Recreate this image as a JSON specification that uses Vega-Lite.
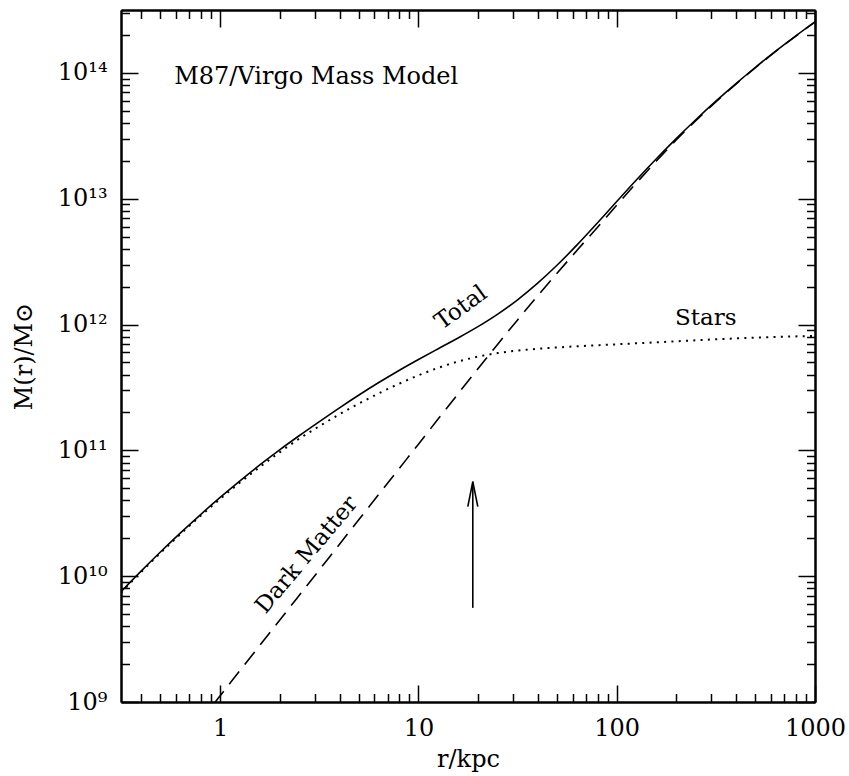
{
  "$schema": "https://vega.github.io/schema/vega-lite/v6.json",
  "width": 694,
  "height": 692,
  "autosize": {"type": "none"},
  "padding": {"left": 121, "top": 10, "right": 34, "bottom": 74},
  "background": "white",
  "config": {
    "view": {"stroke": null},
    "font": "DejaVu Serif",
    "axis": {
      "grid": false,
      "domainColor": "black",
      "domainWidth": 2,
      "tickColor": "black",
      "tickWidth": 1.5,
      "labelColor": "black",
      "labelFont": "DejaVu Serif",
      "labelFontSize": 24,
      "labelOverlap": false,
      "labelFlush": false,
      "labelBound": false,
      "titleFont": "DejaVu Serif",
      "titleFontSize": 24,
      "titleFontWeight": "normal",
      "titleColor": "black"
    }
  },
  "datasets": {
    "curves": [
      {"r": 0.3162, "total": 7.516e9, "stars": 7.4e9, "dm": 1.12e8},
      {"r": 0.3981, "total": 1.091e10, "stars": 1.073e10, "dm": 1.78e8},
      {"r": 0.5012, "total": 1.563e10, "stars": 1.535e10, "dm": 2.82e8},
      {"r": 0.631, "total": 2.208e10, "stars": 2.163e10, "dm": 4.47e8},
      {"r": 0.7943, "total": 3.076e10, "stars": 3.005e10, "dm": 7.08e8},
      {"r": 1, "total": 4.227e10, "stars": 4.115e10, "dm": 1.12e9},
      {"r": 1.259, "total": 5.728e10, "stars": 5.55e10, "dm": 1.78e9},
      {"r": 1.585, "total": 7.656e10, "stars": 7.374e10, "dm": 2.82e9},
      {"r": 1.995, "total": 1.009e11, "stars": 9.64e10, "dm": 4.47e9},
      {"r": 2.512, "total": 1.312e11, "stars": 1.241e11, "dm": 7.08e9},
      {"r": 3.162, "total": 1.69e11, "stars": 1.556e11, "dm": 1.12e10},
      {"r": 3.981, "total": 2.168e11, "stars": 1.928e11, "dm": 1.78e10},
      {"r": 5.012, "total": 2.754e11, "stars": 2.355e11, "dm": 2.82e10},
      {"r": 6.31, "total": 3.459e11, "stars": 2.838e11, "dm": 4.47e10},
      {"r": 7.943, "total": 4.295e11, "stars": 3.373e11, "dm": 7.08e10},
      {"r": 10, "total": 5.272e11, "stars": 3.945e11, "dm": 1.12e11},
      {"r": 12.59, "total": 6.427e11, "stars": 4.529e11, "dm": 1.78e11},
      {"r": 15.85, "total": 7.816e11, "stars": 5.082e11, "dm": 2.82e11},
      {"r": 19.95, "total": 9.616e11, "stars": 5.559e11, "dm": 4.446e11},
      {"r": 25.12, "total": 1.211e12, "stars": 5.929e11, "dm": 6.982e11},
      {"r": 31.62, "total": 1.574e12, "stars": 6.209e11, "dm": 1.089e12},
      {"r": 39.81, "total": 2.123e12, "stars": 6.412e11, "dm": 1.683e12},
      {"r": 50.12, "total": 2.972e12, "stars": 6.577e11, "dm": 2.57e12},
      {"r": 63.1, "total": 4.295e12, "stars": 6.714e11, "dm": 3.89e12},
      {"r": 79.43, "total": 6.353e12, "stars": 6.839e11, "dm": 5.861e12},
      {"r": 100, "total": 9.506e12, "stars": 6.966e11, "dm": 8.872e12},
      {"r": 125.9, "total": 1.416e13, "stars": 7.096e11, "dm": 1.337e13},
      {"r": 158.5, "total": 2.08e13, "stars": 7.228e11, "dm": 1.995e13},
      {"r": 199.5, "total": 3.006e13, "stars": 7.362e11, "dm": 2.931e13},
      {"r": 251.2, "total": 4.266e13, "stars": 7.499e11, "dm": 4.188e13},
      {"r": 316.2, "total": 5.957e13, "stars": 7.638e11, "dm": 5.875e13},
      {"r": 398.1, "total": 8.185e13, "stars": 7.762e11, "dm": 8.11e13},
      {"r": 501.2, "total": 1.109e14, "stars": 7.87e11, "dm": 1.102e14},
      {"r": 631, "total": 1.483e14, "stars": 7.96e11, "dm": 1.476e14},
      {"r": 794.3, "total": 1.954e14, "stars": 8.05e11, "dm": 1.945e14},
      {"r": 1000, "total": 2.547e14, "stars": 8.13e11, "dm": 2.541e14}
    ],
    "notes": [
      {"label": "M87/Virgo Mass Model", "r": 0.586, "M": 8.18e13},
      {"label": "Stars", "r": 281, "M": 9.86e11},
      {"label": "Total", "r": 16.4, "M": 1.36e12},
      {"label": "Dark Matter", "r": 2.73, "M": 1.48e10}
    ],
    "arrow": [
      {"r": 18.8, "M0": 5.6e9, "M1": 5.64e10}
    ]
  },
  "layer": [
    {
      "data": {"name": "curves"},
      "mark": {"type": "line", "stroke": "black", "strokeWidth": 1.6, "strokeDash": [16, 9], "clip": true, "interpolate": "monotone"},
      "encoding": {
        "x": {"field": "r", "type": "quantitative", "scale": {"type": "log", "domain": [0.3162, 1000], "nice": false},
          "axis": {"orient": "top", "values": [1, 10, 100, 1000], "tickSize": -17, "labels": false, "title": null}},
        "y": {"field": "dm", "type": "quantitative", "scale": {"type": "log", "domain": [1e9, 3.1623e14], "nice": false},
          "axis": {"orient": "right", "values": [1e9, 1e10, 1e11, 1e12, 1e13, 1e14], "tickSize": -17, "labels": false, "title": null}}
      }
    },
    {
      "data": {"name": "curves"},
      "mark": {"type": "line", "stroke": "black", "strokeWidth": 2, "strokeDash": [2, 5.3], "clip": true, "interpolate": "monotone"},
      "encoding": {
        "x": {"field": "r", "type": "quantitative", "scale": {"type": "log", "domain": [0.3162, 1000], "nice": false},
          "axis": {"orient": "bottom", "values": [0.4, 0.5, 0.6, 0.7, 0.8, 0.9, 2, 3, 4, 5, 6, 7, 8, 9, 20, 30, 40, 50, 60, 70, 80, 90, 200, 300, 400, 500, 600, 700, 800, 900], "tickSize": -8.5, "labels": false, "title": null}},
        "y": {"field": "stars", "type": "quantitative", "scale": {"type": "log", "domain": [1e9, 3.1623e14], "nice": false},
          "axis": {"orient": "left", "values": [2e9, 3e9, 4e9, 5e9, 6e9, 7e9, 8e9, 9e9, 2e10, 3e10, 4e10, 5e10, 6e10, 7e10, 8e10, 9e10, 2e11, 3e11, 4e11, 5e11, 6e11, 7e11, 8e11, 9e11, 2e12, 3e12, 4e12, 5e12, 6e12, 7e12, 8e12, 9e12, 2e13, 3e13, 4e13, 5e13, 6e13, 7e13, 8e13, 9e13, 2e14, 3e14], "tickSize": -8.5, "labels": false, "title": null}}
      }
    },
    {
      "data": {"name": "curves"},
      "mark": {"type": "line", "stroke": "black", "strokeWidth": 1.6, "clip": true, "interpolate": "monotone"},
      "encoding": {
        "x": {"field": "r", "type": "quantitative", "scale": {"type": "log", "domain": [0.3162, 1000], "nice": false},
          "axis": {"orient": "bottom", "values": [1, 10, 100, 1000], "tickSize": -17, "labelExpr": "'' + datum.value", "labelPadding": 31, "labelBaseline": "top",
            "title": "r/kpc", "titleX": 347, "titleY": 64, "titleBaseline": "alphabetic", "titleAlign": "center"}},
        "y": {"field": "total", "type": "quantitative", "scale": {"type": "log", "domain": [1e9, 3.1623e14], "nice": false},
          "axis": {"orient": "left", "values": [1e9, 1e10, 1e11, 1e12, 1e13, 1e14], "tickSize": -17,
            "labelExpr": "datum.value==1e9?'10⁹':datum.value==1e10?'10¹⁰':datum.value==1e11?'10¹¹':datum.value==1e12?'10¹²':datum.value==1e13?'10¹³':datum.value==1e14?'10¹⁴':''",
            "labelPadding": 31, "labelBaseline": "middle",
            "title": "M(r)/M⊙", "titleX": -97, "titleY": 346, "titleAngle": 270, "titleBaseline": "middle", "titleAlign": "center"}}
      }
    },
    {
      "data": {"name": "notes"},
      "transform": [{"filter": "datum.label == 'M87/Virgo Mass Model'"}],
      "mark": {"type": "text", "align": "left", "baseline": "alphabetic", "fontSize": 24, "font": "DejaVu Serif", "color": "black"},
      "encoding": {
        "x": {"field": "r", "type": "quantitative", "scale": {"type": "log", "domain": [0.3162, 1000], "nice": false},
          "axis": {"orient": "top", "values": [0.4, 0.5, 0.6, 0.7, 0.8, 0.9, 2, 3, 4, 5, 6, 7, 8, 9, 20, 30, 40, 50, 60, 70, 80, 90, 200, 300, 400, 500, 600, 700, 800, 900], "tickSize": -8.5, "labels": false, "title": null}},
        "y": {"field": "M", "type": "quantitative", "scale": {"type": "log", "domain": [1e9, 3.1623e14], "nice": false},
          "axis": {"orient": "right", "values": [2e9, 3e9, 4e9, 5e9, 6e9, 7e9, 8e9, 9e9, 2e10, 3e10, 4e10, 5e10, 6e10, 7e10, 8e10, 9e10, 2e11, 3e11, 4e11, 5e11, 6e11, 7e11, 8e11, 9e11, 2e12, 3e12, 4e12, 5e12, 6e12, 7e12, 8e12, 9e12, 2e13, 3e13, 4e13, 5e13, 6e13, 7e13, 8e13, 9e13, 2e14, 3e14], "tickSize": -8.5, "labels": false, "title": null}},
        "text": {"field": "label"}
      }
    },
    {
      "data": {"name": "notes"},
      "transform": [{"filter": "datum.label == 'Stars'"}],
      "mark": {"type": "text", "align": "center", "baseline": "alphabetic", "fontSize": 23, "font": "DejaVu Serif", "color": "black"},
      "encoding": {
        "x": {"field": "r", "type": "quantitative", "scale": {"type": "log", "domain": [0.3162, 1000], "nice": false}, "axis": null},
        "y": {"field": "M", "type": "quantitative", "scale": {"type": "log", "domain": [1e9, 3.1623e14], "nice": false}, "axis": null},
        "text": {"field": "label"}
      }
    },
    {
      "data": {"name": "notes"},
      "transform": [{"filter": "datum.label == 'Total'"}],
      "mark": {"type": "text", "align": "center", "baseline": "middle", "angle": 324, "fontSize": 23, "font": "DejaVu Serif", "color": "black"},
      "encoding": {
        "x": {"field": "r", "type": "quantitative", "scale": {"type": "log", "domain": [0.3162, 1000], "nice": false}, "axis": null},
        "y": {"field": "M", "type": "quantitative", "scale": {"type": "log", "domain": [1e9, 3.1623e14], "nice": false}, "axis": null},
        "text": {"field": "label"}
      }
    },
    {
      "data": {"name": "notes"},
      "transform": [{"filter": "datum.label == 'Dark Matter'"}],
      "mark": {"type": "text", "align": "center", "baseline": "middle", "angle": 310, "fontSize": 23, "font": "DejaVu Serif", "color": "black"},
      "encoding": {
        "x": {"field": "r", "type": "quantitative", "scale": {"type": "log", "domain": [0.3162, 1000], "nice": false}, "axis": null},
        "y": {"field": "M", "type": "quantitative", "scale": {"type": "log", "domain": [1e9, 3.1623e14], "nice": false}, "axis": null},
        "text": {"field": "label"}
      }
    },
    {
      "data": {"name": "arrow"},
      "mark": {"type": "rule", "stroke": "black", "strokeWidth": 1.6},
      "encoding": {
        "x": {"field": "r", "type": "quantitative", "scale": {"type": "log", "domain": [0.3162, 1000], "nice": false}, "axis": null},
        "y": {"field": "M0", "type": "quantitative", "scale": {"type": "log", "domain": [1e9, 3.1623e14], "nice": false}, "axis": null},
        "y2": {"field": "M1"}
      }
    },
    {
      "data": {"name": "arrow"},
      "mark": {"type": "point", "shape": "M-0.2,1L0,0L0.2,1", "size": 2500, "filled": false, "stroke": "black", "strokeWidth": 1.6, "opacity": 1},
      "encoding": {
        "x": {"field": "r", "type": "quantitative", "scale": {"type": "log", "domain": [0.3162, 1000], "nice": false}, "axis": null},
        "y": {"field": "M1", "type": "quantitative", "scale": {"type": "log", "domain": [1e9, 3.1623e14], "nice": false}, "axis": null}
      }
    }
  ],
  "resolve": {"axis": {"x": "independent", "y": "independent"}}
}
